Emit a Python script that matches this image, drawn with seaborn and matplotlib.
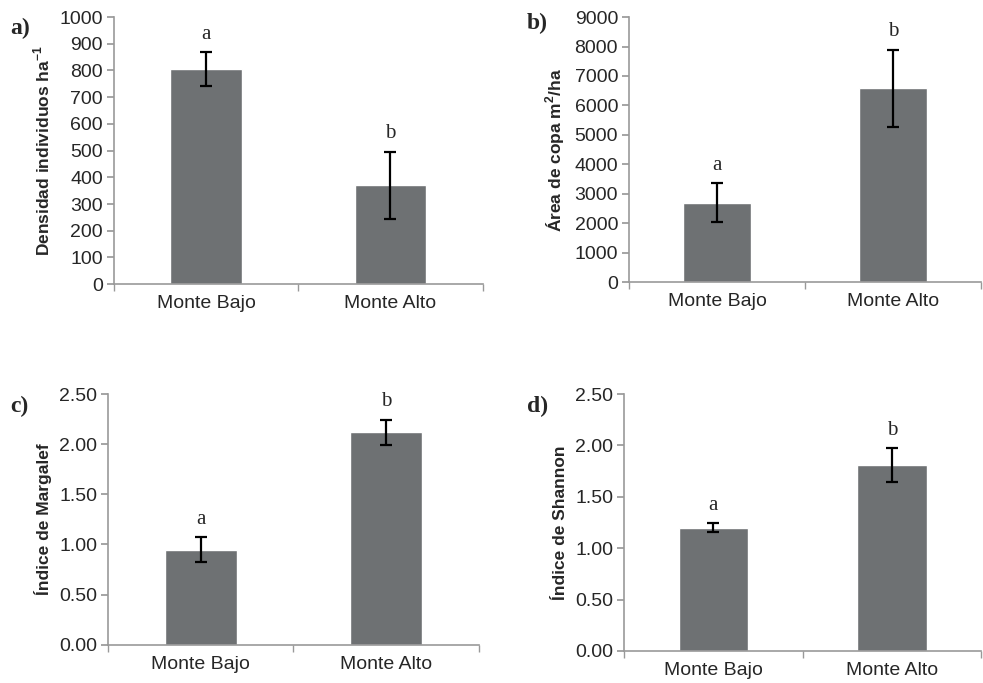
import numpy as np
import pandas as pd
import matplotlib
matplotlib.use("Agg")
import matplotlib.pyplot as plt
import seaborn as sns

# datos
sitios = ["Monte Bajo", "Monte Alto"]
densidad = [805, 370]
densidad_err = [64, 126]
copa = [2700, 6580]
copa_err = [650, 1310]
margalef = [0.95, 2.12]
margalef_err = [0.125, 0.125]
shannon = [1.20, 1.81]
shannon_err = [0.045, 0.165]
letras = ["a", "b"]

sns.set_theme(style="white")
plt.rcParams['font.family'] = ['Liberation Sans', 'DejaVu Sans']

gris = "#6e7173"
eje = "#999999"

fig = plt.figure(figsize=(9.83, 6.83), dpi=100)

paneles = [
    # pos, valores, errores, ylabel, ylim, paso, fmt, etiqueta
    ([0.116, 0.584, 0.375, 0.391], densidad, densidad_err, "Densidad individuos ha$^{\\mathregular{-1}}$", 1000, 100, "{:.0f}", "a)", (0.010, 0.958)),
    ([0.640, 0.587, 0.358, 0.388], copa, copa_err, "Área de copa m$^{\\mathregular{2}}$/ha", 9000, 1000, "{:.0f}", "b)", (0.536, 0.965)),
    ([0.110, 0.056, 0.377, 0.367], margalef, margalef_err, "Índice de Margalef", 2.5, 0.5, "{:.2f}", "c)", (0.010, 0.405)),
    ([0.635, 0.047, 0.363, 0.376], shannon, shannon_err, "Índice de Shannon", 2.5, 0.5, "{:.2f}", "d)", (0.536, 0.405)),
]

for pos, vals, errs, ylab, ymax, paso, fmt, etiq, lpos in paneles:
    ax = fig.add_axes(pos)
    df = pd.DataFrame({"sitio": sitios, "valor": vals})
    sns.barplot(data=df, x="sitio", y="valor", color=gris, saturation=1,
                width=0.39, errorbar=None, ax=ax)
    ax.errorbar(np.arange(len(vals)), vals, yerr=errs, fmt="none",
                ecolor="black", elinewidth=1.6, capsize=4.5, capthick=1.6)
    for i, (v, e) in enumerate(zip(vals, errs)):
        ax.annotate(letras[i], (i, v + e), xytext=(0, 6), textcoords="offset points",
                    ha="center", va="bottom", fontsize=15, family="Liberation Serif")
    ax.set_xlim(-0.5, 1.5)
    ax.set_ylim(0, ymax)
    ticks = np.arange(0, ymax + paso / 2, paso)
    ax.set_yticks(ticks)
    ax.set_yticklabels([fmt.format(t) for t in ticks], fontsize=14)
    ax.set_xticks([0, 1])
    ax.set_xticklabels(sitios, fontsize=14)
    ax.set_xticks([-0.5, 0.5, 1.5], minor=True)
    ax.tick_params(axis="x", which="major", length=0, pad=8)
    ax.tick_params(axis="x", which="minor", length=5, color=eje, direction="out", bottom=True)
    ax.tick_params(axis="y", length=5, color=eje, direction="out", left=True, pad=3)
    ax.set_xlabel("")
    ax.set_ylabel(ylab, fontsize=12.5, fontweight="bold", labelpad=5)
    for s in ["top", "right"]:
        ax.spines[s].set_visible(False)
    for s in ["left", "bottom"]:
        ax.spines[s].set_color(eje)
        ax.spines[s].set_linewidth(1.2)
    fig.text(lpos[0], lpos[1], etiq, fontsize=17, fontweight="bold",
             family="Liberation Serif", va="center")

fig.savefig("out.png", dpi=100)
